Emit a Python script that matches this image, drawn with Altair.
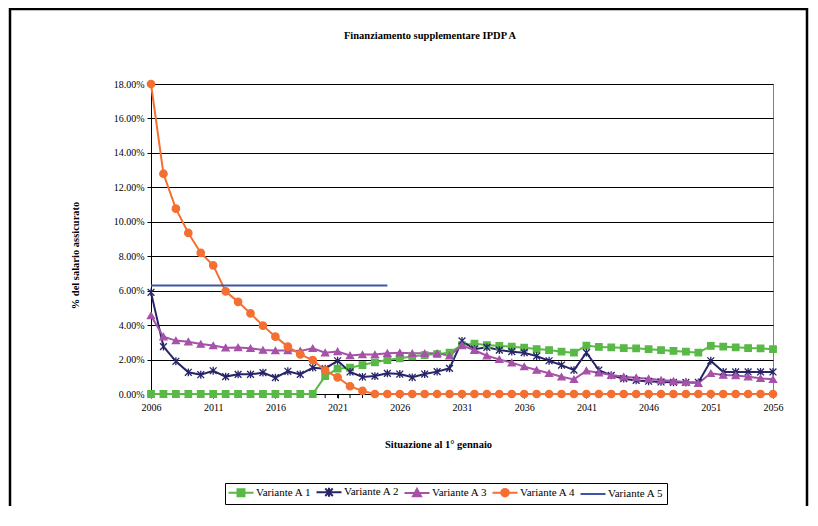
import altair as alt
import pandas as pd

# ---------------- data ----------------
years = list(range(2006, 2057))
label_years = [2006, 2011, 2016, 2021, 2026, 2031, 2036, 2041, 2046, 2051, 2056]
series_names = ["Variante A 1", "Variante A 2", "Variante A 3", "Variante A 4", "Variante A 5"]

a1 = [0, 0, 0, 0, 0, 0, 0, 0, 0, 0,
      0, 0, 0, 0, 1.04, 1.47, 1.53, 1.68, 1.84, 1.97,
      2.07, 2.18, 2.26, 2.32, 2.40, 2.84, 2.92, 2.84, 2.79, 2.75,
      2.69, 2.61, 2.55, 2.46, 2.40, 2.81, 2.73, 2.71, 2.67, 2.65,
      2.60, 2.55, 2.50, 2.46, 2.40, 2.79, 2.75, 2.71, 2.67, 2.65,
      2.60]
a2 = [5.90, 2.75, 1.90, 1.26, 1.12, 1.35, 1.01, 1.14, 1.14, 1.24,
      0.95, 1.32, 1.14, 1.53, 1.47, 1.93, 1.28, 0.99, 1.04, 1.20,
      1.16, 0.97, 1.16, 1.30, 1.49, 3.08, 2.60, 2.71, 2.55, 2.46,
      2.40, 2.20, 1.93, 1.68, 1.39, 2.40, 1.39, 1.08, 0.89, 0.79,
      0.74, 0.70, 0.68, 0.67, 0.67, 1.93, 1.28, 1.28, 1.28, 1.28,
      1.28]
a3 = [4.55, 3.33, 3.10, 3.04, 2.90, 2.81, 2.69, 2.70, 2.65, 2.55,
      2.52, 2.52, 2.50, 2.65, 2.40, 2.47, 2.24, 2.29, 2.29, 2.37,
      2.40, 2.36, 2.36, 2.36, 2.22, 2.82, 2.54, 2.22, 2.01, 1.82,
      1.59, 1.39, 1.20, 1.00, 0.85, 1.35, 1.24, 1.10, 1.00, 0.95,
      0.89, 0.81, 0.75, 0.70, 0.62, 1.20, 1.10, 1.07, 1.00, 0.91,
      0.85]
a4 = [18.00, 12.79, 10.76, 9.35, 8.19, 7.47, 5.96, 5.35, 4.68, 3.97,
      3.33, 2.75, 2.30, 1.97, 1.37, 0.97, 0.45, 0.18, 0, 0,
      0, 0, 0, 0, 0, 0, 0, 0, 0, 0,
      0, 0, 0, 0, 0, 0, 0, 0, 0, 0,
      0, 0, 0, 0, 0, 0, 0, 0, 0, 0,
      0]
a5_years = list(range(2006, 2026))
a5 = [6.3, 6.3, 6.3, 6.3, 6.3, 6.3, 6.3, 6.3, 6.3, 6.3,
      6.3, 6.3, 6.3, 6.3, 6.3, 6.3, 6.3, 6.3, 6.3, 6.3]

y_ticks = [0, 0.02, 0.04, 0.06, 0.08, 0.10, 0.12, 0.14, 0.16, 0.18]

colors = ["#58b947", "#272468", "#a652a8", "#f47032", "#3f55a5"]

rows = []
for name, xs, vals in [(series_names[0], years, a1), (series_names[1], years, a2),
                       (series_names[2], years, a3), (series_names[3], years, a4),
                       (series_names[4], a5_years, a5)]:
    for yr, v in zip(xs, vals):
        rows.append({"year": yr, "value": v / 100.0, "series": name})
df = pd.DataFrame(rows)
years_df = pd.DataFrame({"year": years})

# ---------------- styling ----------------
FONT = "Liberation Serif, Times New Roman, serif"
W, H = 622, 310

asterisk = "M-1,-1L1,1M-1,1L1,-1M0,-1.15L0,1.15"
marker_shapes = ["square", asterisk, "triangle-up", "circle"]

leg_line = "M-2.5,0H2.5"
legend_shapes = [
    leg_line + "M-0.7,-0.7H0.7V0.7H-0.7Z",
    leg_line + "M-0.75,-0.75L0.75,0.75M-0.75,0.75L0.75,-0.75M0,-0.9V0.9",
    leg_line + "M0,-0.8L0.8,0.65H-0.8Z",
    leg_line + "M0.75,0A0.75,0.75,0,1,1,-0.75,0A0.75,0.75,0,1,1,0.75,0Z",
    leg_line,
]

x_scale = alt.Scale(domain=[2006, 2056], nice=False, zero=False)
y_scale = alt.Scale(domain=[0, 0.18], nice=False, zero=True)
x_axis = alt.Axis(
    values=label_years, tickCount=30, format="d",
    title="Situazione al 1° gennaio", grid=False, tickSize=4,
    labelFlush=False, labelOverlap=False, labelPadding=4,
    titleX=287, titleY=50, titleAnchor="middle", titleAlign="center",
    titleBaseline="middle",
)
y_axis = alt.Axis(
    values=y_ticks, tickCount=20, format=".2%", title="% del salario assicurato",
    grid=True, gridColor="black", gridWidth=1, gridOpacity=1,
    tickSize=4, labelPadding=3, labelOverlap=False, labelFlush=False,
    titleX=-76, titleY=171, titleAngle=-90, titleAlign="center",
    titleBaseline="middle",
)
x_enc = alt.X("year:Q", scale=x_scale, axis=x_axis)
y_enc = alt.Y("value:Q", scale=y_scale, axis=y_axis)

# yearly minor ticks below the x axis
year_ticks = alt.Chart(years_df).mark_rule(color="black", strokeWidth=1).encode(
    x=x_enc,
    y=alt.value(H), y2=alt.value(H + 4),
)

lines = alt.Chart(df).mark_line(strokeWidth=2).encode(
    x=x_enc, y=y_enc,
    color=alt.Color("series:N", scale=alt.Scale(domain=series_names, range=colors), legend=None),
    detail="series:N",
)

points = alt.Chart(df).transform_filter(
    "datum.series != 'Variante A 5'"
).mark_point(filled=False, opacity=1, strokeWidth=1.3).encode(
    x=x_enc, y=y_enc,
    stroke=alt.Stroke("series:N", scale=alt.Scale(domain=series_names[:4], range=colors[:4]), legend=None),
    fill=alt.Fill("series:N", scale=alt.Scale(domain=series_names[:4], range=colors[:4]), legend=None),
    shape=alt.Shape("series:N", scale=alt.Scale(domain=series_names[:4], range=marker_shapes), legend=None),
    size=alt.Size("series:N", scale=alt.Scale(domain=series_names[:4], range=[42, 55, 55, 55]), legend=None),
)

leg = alt.Legend(
    orient="none", legendX=74, legendY=399, direction="horizontal", columns=5,
    title=None, strokeColor="black", fillColor="white", padding=3,
    symbolSize=100, symbolStrokeWidth=2, symbolOffset=7,
    labelFont=FONT, labelFontSize=11, labelColor="black", labelOffset=9,
    columnPadding=0, labelLimit=200,
)
legend_layer = alt.Chart(df).transform_filter("false").mark_point(
    filled=True, opacity=1, strokeWidth=2
).encode(
    x=x_enc, y=y_enc,
    fill=alt.Fill("series:N", scale=alt.Scale(domain=series_names, range=colors), legend=leg),
    stroke=alt.Stroke("series:N", scale=alt.Scale(domain=series_names, range=colors), legend=leg),
    shape=alt.Shape("series:N", scale=alt.Scale(domain=series_names, range=legend_shapes), legend=leg),
)

frame = alt.Chart(pd.DataFrame({"k": [0]})).mark_rect(
    fillOpacity=0, stroke="black", strokeWidth=2.5
).encode(
    x=alt.value(-141), x2=alt.value(656), y=alt.value(-75), y2=alt.value(470)
)

chart = alt.layer(frame, year_ticks, lines, points, legend_layer).resolve_scale(
    color="independent", fill="independent", stroke="independent",
    shape="independent", size="independent",
).properties(
    width=W, height=H,
    title=alt.Title("Finanziamento supplementare IPDP A", font=FONT, fontSize=10.5,
                    fontWeight="bold", color="black", anchor="middle", frame="group",
                    dx=-32, offset=-34),
    autosize=alt.AutoSizeParams(type="none"),
    padding={"left": 143, "top": 76, "right": 37, "bottom": 112},
).configure(
    background="white",
).configure_view(
    stroke="#808080", strokeWidth=1,
).configure_axis(
    labelFont=FONT, labelFontSize=10, labelColor="black",
    titleFont=FONT, titleFontSize=10.5, titleFontWeight="bold", titleColor="black",
    domainColor="black", tickColor="black", domainWidth=1,
)

chart.save("out.html", embed_options={"renderer": "svg", "actions": False})
